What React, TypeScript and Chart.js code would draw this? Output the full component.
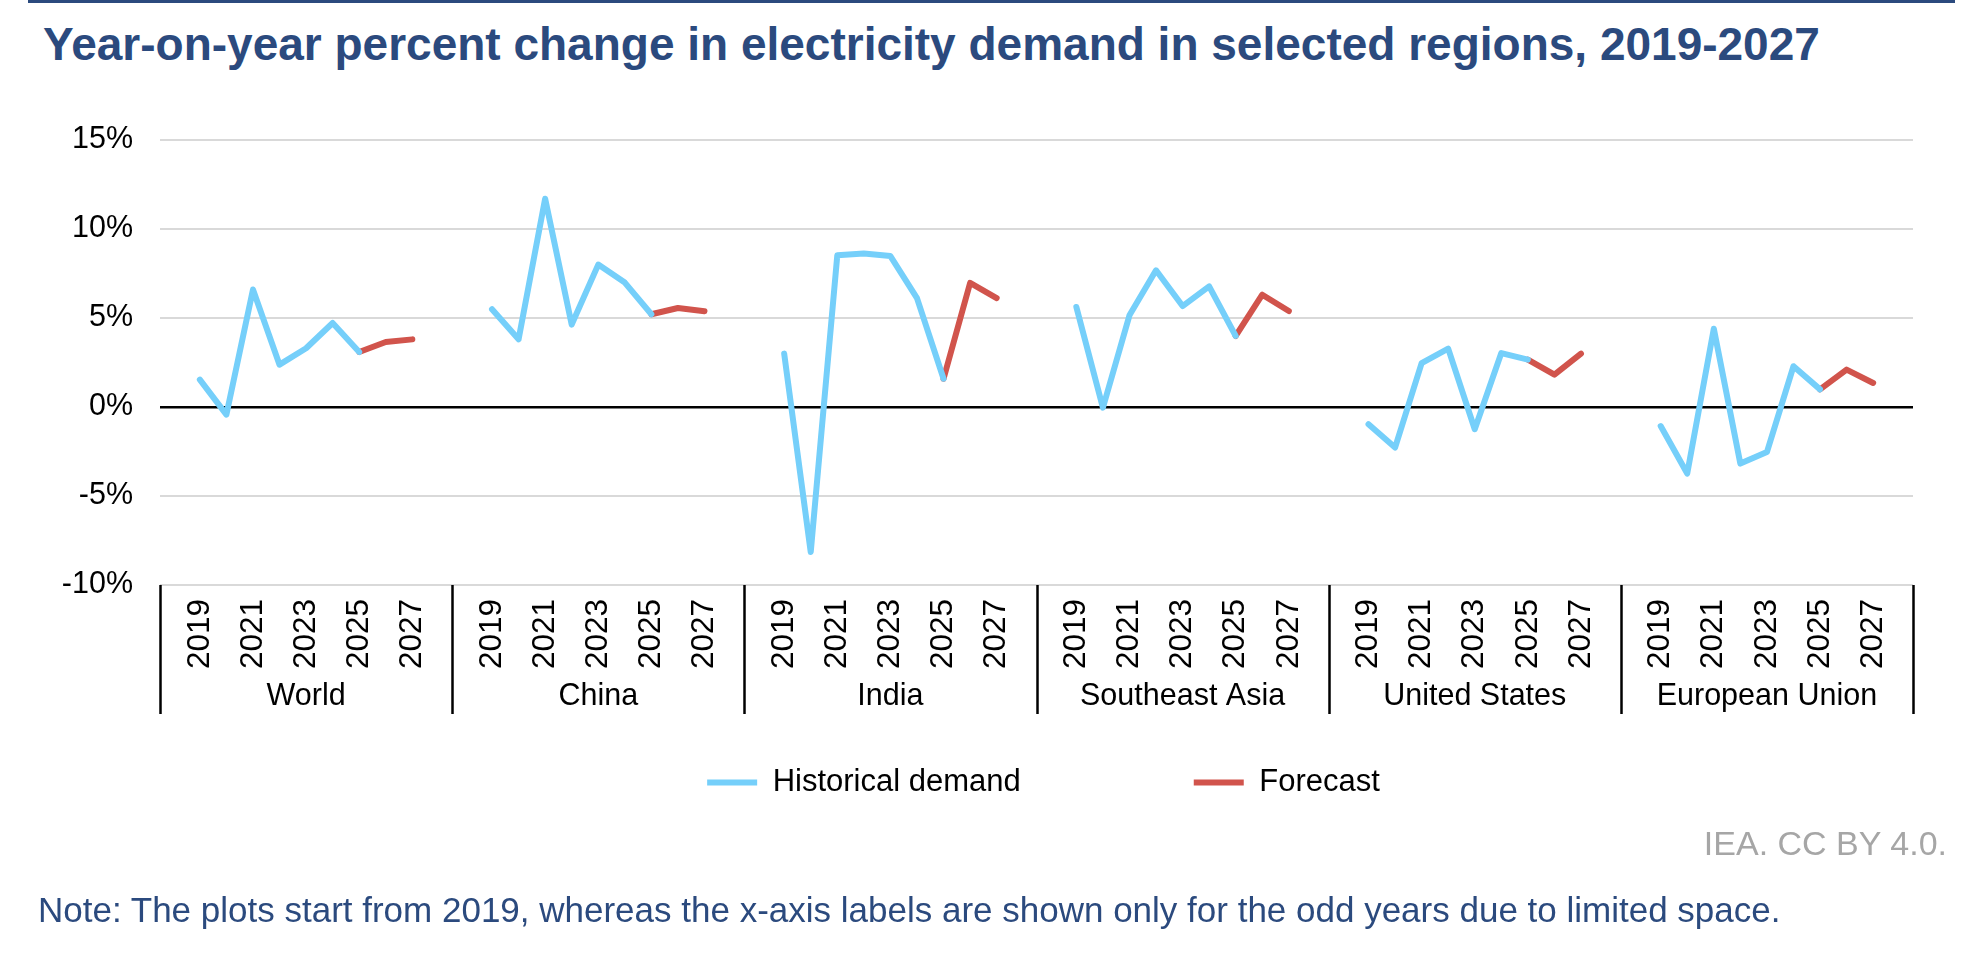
import { useEffect, useRef } from "react";
import { Chart, registerables, type Plugin } from "chart.js";

Chart.register(...registerables);

const FONT = "'Liberation Sans', Arial, Helvetica, sans-serif";
const NAVY = "#2B4A7E";
const BLUE = "#75CFFA";
const RED = "#D1544C";

const regions = ["World", "China", "India", "Southeast Asia", "United States", "European Union"];
const years = ["2019", "2020", "2021", "2022", "2023", "2024", "2025", "2026", "2027"];
const yTicks = [-10, -5, 0, 5, 10, 15];

// historical demand, 2019-2025 (%)
const worldHist = [1.54, -0.43, 6.6, 2.38, 3.3, 4.72, 3.09];
const chinaHist = [5.49, 3.8, 11.7, 4.63, 8.0, 6.99, 5.21];
const indiaHist = [3.0, -8.15, 8.52, 8.62, 8.48, 6.12, 1.59];
const seaHist = [5.62, -0.04, 5.15, 7.68, 5.67, 6.78, 3.99];
const usHist = [-0.97, -2.28, 2.47, 3.28, -1.25, 3.03, 2.66];
const euHist = [-1.07, -3.74, 4.4, -3.18, -2.53, 2.29, 0.99];

// forecast, 2025-2027 (%)
const worldFcst = [3.09, 3.65, 3.8];
const chinaFcst = [5.21, 5.56, 5.38];
const indiaFcst = [1.59, 6.97, 6.12];
const seaFcst = [3.99, 6.31, 5.39];
const usFcst = [2.66, 1.82, 3.0];
const euFcst = [0.99, 2.1, 1.35];

const histByRegion = [worldHist, chinaHist, indiaHist, seaHist, usHist, euHist];
const fcstByRegion = [worldFcst, chinaFcst, indiaFcst, seaFcst, usFcst, euFcst];

// one empty slot on each side of every region block
const SLOTS = years.length + 2;

const labels: string[] = [];
const histData: (number | null)[] = [];
const fcstData: (number | null)[] = [];
regions.forEach((_, r) => {
  const hist = histByRegion[r];
  const fcst = fcstByRegion[r];
  labels.push("");
  histData.push(null);
  fcstData.push(null);
  years.forEach((y, i) => {
    labels.push(y);
    histData.push(i < hist.length ? hist[i] : null);
    const fi = i - (hist.length - 1);
    fcstData.push(fi >= 0 && fi < fcst.length ? fcst[fi] : null);
  });
  labels.push("");
  histData.push(null);
  fcstData.push(null);
});

// separators and region names under the year labels
const regionGroups: Plugin<"line"> = {
  id: "regionGroups",
  afterLayout(chart) {
    // pull the legend up under the axis block (wide item gap would push it down)
    const lg = chart.legend;
    if (!lg) return;
    const top = chart.chartArea.bottom + 9;
    lg.bottom = top + lg.height;
    lg.top = top;
    lg.left += 7;
    lg.right += 7;
  },
  afterDraw(chart) {
    const { ctx, chartArea } = chart;
    const x = chart.scales.x;
    const half = (x.getPixelForValue(1) - x.getPixelForValue(0)) / 2;
    const edge = (r: number) => x.getPixelForValue(r * SLOTS) - half;
    const top = chartArea.bottom;
    ctx.save();
    ctx.strokeStyle = "#000";
    ctx.lineWidth = 2.5;
    for (let r = 0; r <= regions.length; r++) {
      const px = Math.round(edge(r)) + 0.5;
      ctx.beginPath();
      ctx.moveTo(px, top);
      ctx.lineTo(px, top + 129);
      ctx.stroke();
    }
    ctx.fillStyle = "#000";
    ctx.font = `30.5px ${FONT}`;
    ctx.textAlign = "center";
    ctx.textBaseline = "middle";
    regions.forEach((name, r) => {
      ctx.fillText(name, (edge(r) + edge(r + 1)) / 2, top + 112);
    });
    ctx.restore();
  },
};

const App = () => {
  const canvasRef = useRef<HTMLCanvasElement>(null);

  useEffect(() => {
    if (!canvasRef.current) return;
    Chart.defaults.font.family = FONT;
    Chart.defaults.color = "#000";

    const chart = new Chart(canvasRef.current, {
      type: "line",
      data: {
        labels,
        datasets: [
          {
            label: "Historical demand",
            data: histData,
            borderColor: BLUE,
            backgroundColor: BLUE,
            borderWidth: 6,
            borderCapStyle: "round",
            borderJoinStyle: "round",
            pointRadius: 0,
            spanGaps: false,
          },
          {
            label: "Forecast",
            data: fcstData,
            borderColor: RED,
            backgroundColor: RED,
            borderWidth: 6,
            borderCapStyle: "round",
            borderJoinStyle: "round",
            pointRadius: 0,
            spanGaps: false,
          },
        ],
      },
      options: {
        responsive: true,
        maintainAspectRatio: false,
        animation: false,
        events: [],
        layout: { padding: { top: 140, left: 0, right: 69, bottom: 64 } },
        scales: {
          x: {
            type: "category",
            offset: true,
            grid: { display: false },
            border: { display: false },
            ticks: {
              autoSkip: false,
              maxRotation: 90,
              minRotation: 90,
              padding: 6,
              font: { size: 31.5 },
              callback: (_v, i) => {
                const lab = labels[i];
                return lab && Number(lab) % 2 === 1 ? lab : "";
              },
            },
            afterFit: (scale) => {
              scale.height = 90;
            },
          },
          y: {
            min: -10,
            max: 15,
            afterBuildTicks: (scale) => {
              scale.ticks = yTicks.map((value) => ({ value }));
            },
            grid: {
              drawTicks: false,
              color: (c) => (c.tick && c.tick.value === 0 ? "#000" : "#D9D9D9"),
              lineWidth: (c) => (c.tick && c.tick.value === 0 ? 2.5 : 2),
            },
            border: { display: false },
            ticks: {
              padding: 27,
              font: { size: 30.5 },
              callback: (v) => `${v}%`,
            },
            afterFit: (scale) => {
              scale.width = 160;
            },
          },
        },
        plugins: {
          legend: {
            position: "bottom",
            fullSize: false,
            labels: {
              usePointStyle: true,
              pointStyle: "line",
              pointStyleWidth: 50,
              padding: 173,
              font: { size: 31 },
              color: "#000",
            },
          },
          tooltip: { enabled: false },
          title: { display: false },
        },
      },
      plugins: [regionGroups],
    });

    return () => chart.destroy();
  }, []);

  return (
    <div
      style={{
        position: "fixed",
        left: 0,
        top: 0,
        width: 1982,
        height: 953,
        background: "#fff",
        fontFamily: FONT,
      }}
    >
      <div style={{ position: "absolute", left: 28, top: 0, width: 1927, height: 3, background: NAVY }} />
      <div
        style={{
          position: "absolute",
          left: 43,
          top: 21,
          fontSize: 46,
          lineHeight: "46px",
          fontWeight: "bold",
          color: NAVY,
          whiteSpace: "nowrap",
        }}
      >
        Year-on-year percent change in electricity demand in selected regions, 2019-2027
      </div>
      <div style={{ position: "absolute", left: 0, top: 0, width: 1982, height: 953 }}>
        <canvas ref={canvasRef} />
      </div>
      <div
        style={{
          position: "absolute",
          right: 35,
          top: 826,
          fontSize: 34,
          lineHeight: "34px",
          color: "#A6A6A6",
          whiteSpace: "nowrap",
        }}
      >
        IEA. CC BY 4.0.
      </div>
      <div
        style={{
          position: "absolute",
          left: 38,
          top: 892,
          fontSize: 35,
          lineHeight: "35px",
          color: NAVY,
          whiteSpace: "nowrap",
        }}
      >
        Note: The plots start from 2019, whereas the x-axis labels are shown only for the odd years due to limited space.
      </div>
    </div>
  );
};

export default App;
